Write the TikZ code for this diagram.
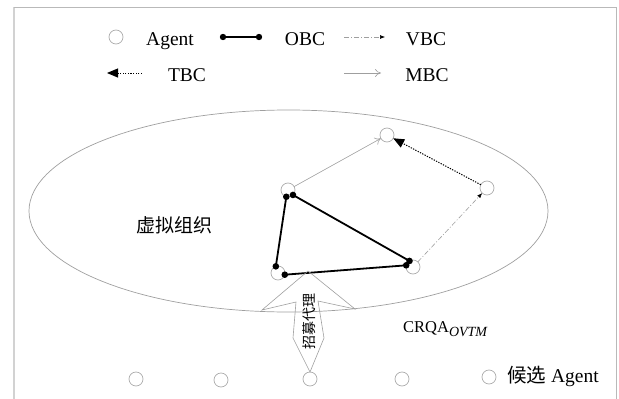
\documentclass[tikz,border=0pt]{standalone}
\usepackage{fontspec}
\setmainfont{Liberation Serif}
\newfontfamily\cjk{Noto Sans CJK SC}
\usetikzlibrary{arrows.meta,calc}

\begin{document}
\begin{tikzpicture}[x=1pt,y=-1pt,
  agent/.style={circle,draw=gray!65,line width=0.7pt,minimum size=14pt,inner sep=0pt,outer sep=0pt},
  obc/.style={line width=1.8pt,black},
  obcdot/.style={black},
  mbc/.style={draw=gray!75,line width=0.6pt,-{To[length=6pt,width=8pt]}},
  vbc/.style={draw=gray!75,line width=0.6pt,dash pattern=on 5pt off 2pt on 1pt off 2pt,-{Latex[length=5pt,width=4pt,black]}},
  tbc/.style={black,line width=1pt,dash pattern=on 1.3pt off 1.3pt,-{Triangle[length=11pt,width=9pt]}},
  lbl/.style={font=\fontsize{19.5}{20}\selectfont,inner sep=0pt,anchor=base},
  frame/.style={draw=gray!55,line width=1pt}]

\useasboundingbox (0,0) rectangle (619,399);

% page frame (open at the bottom)
\draw[frame,draw=gray!35,line width=2pt] (14,7) -- (14,399);
\draw[frame] (14,7) -- (616,7) -- (616,399);

% ---------------- legend ----------------
\node[agent] (lgA) at (116,37) {};
\node[lbl] at (170,45) {Agent};

\coordinate (lgO1) at (223,37);
\coordinate (lgO2) at (259,37);
\draw[obc] (lgO1) -- (lgO2);
\fill[obcdot] (lgO1) circle (3.2) (lgO2) circle (3.2);
\node[lbl] at (305,45) {OBC};

\coordinate (lgV1) at (344,37);
\coordinate (lgV2) at (385,37);
\draw[vbc] (lgV1) -- (lgV2);
\node[lbl] at (426,45) {VBC};

\coordinate (lgT1) at (142,73);
\coordinate (lgT2) at (107,73);
\draw[tbc] (lgT1) -- (lgT2);
\node[lbl] at (187,81) {TBC};

\coordinate (lgM1) at (344,73);
\coordinate (lgM2) at (381,73);
\draw[mbc] (lgM1) -- (lgM2);
\node[lbl] at (427,81) {MBC};

% ---------------- virtual organisation ----------------
\draw[draw=gray!75,line width=0.7pt] (288.5,211) ellipse [x radius=259.5, y radius=101];
\node[font=\cjk\fontsize{19}{19}\selectfont,inner sep=0pt] (vo) at (174,225) {虚拟组织};

\node[agent] (A) at (387,135) {};
\node[agent] (B) at (487,188) {};
\node[agent] (C) at (288,190) {};
\node[agent] (D) at (278,273) {};
\node[agent] (E) at (413,267) {};

% member relations
\draw[mbc] (C) -- (A);
\draw[vbc] (E) -- (B);
\draw[tbc] (B) -- (A);

% organisational triangle
\draw[obc] (C.256) -- (D.108);
\draw[obc] (C.-45) -- (E.120);
\draw[obc] (D.-14) -- (E.166);
\foreach \p in {C.256,D.108,C.-45,E.120,D.-14,E.166}
  \fill[obcdot] (\p) circle (3.3);

% ---------------- candidates ----------------
\node[agent] (K1) at (136,379) {};
\node[agent] (K2) at (221,380) {};
\node[agent] (K3) at (310,379) {};
\node[agent] (K4) at (402,379) {};
\node[agent] (K5) at (489,377) {};
\node[lbl,anchor=base west] (cand) at (507,382) {{\cjk 候选}\ Agent};

% recruiting agent arrow
\draw[draw=gray!75,line width=0.6pt]
  (308,271) -- (355,309) -- (318,301) -- (324,338) -- (K3.north)
  -- (293,338) -- (296,302) -- (262,310) -- cycle;
\node[rotate=90,font=\cjk\fontsize{14}{14}\selectfont,inner sep=0pt] (ra) at (309,321) {招募代理};

\node[font=\fontsize{16.5}{17}\selectfont,inner sep=0pt,anchor=base west] (crqa) at (403,332)
  {CRQA\raisebox{-4pt}{\fontsize{14}{14}\selectfont\itshape OVTM}};

\end{tikzpicture}
\end{document}
